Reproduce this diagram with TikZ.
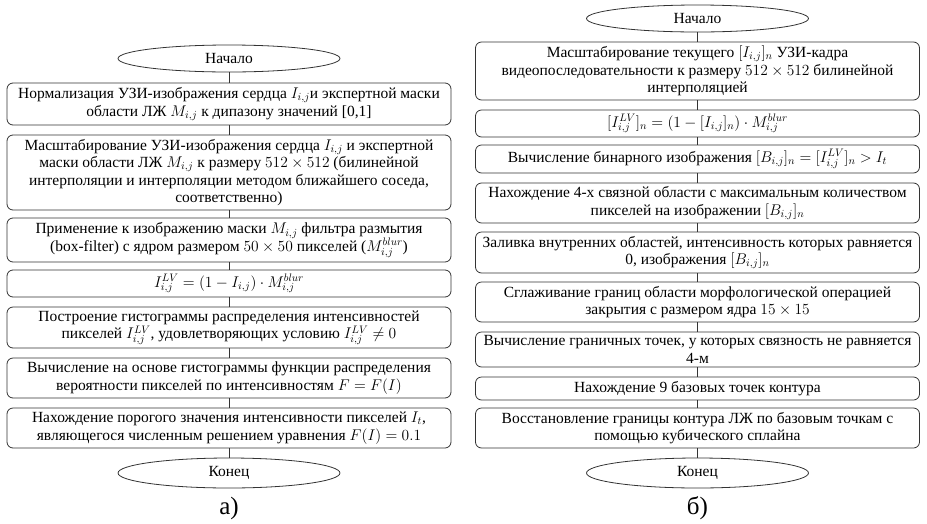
\RequirePackage{fix-cm}
\documentclass[tikz,border=0pt]{standalone}
\usepackage{amsmath}
\usepackage[no-math]{fontspec}
\setmainfont{Liberation Serif}
\newfontfamily\rusface{Liberation Serif}
\usetikzlibrary{shapes.geometric}
\newcommand{\bodyfont}{\rusface\fontsize{15.5}{17.6}\selectfont}
\newcommand{\capfont}{\rusface\fontsize{25}{28}\selectfont}

\begin{document}
\begin{tikzpicture}[x=1pt, y=-1pt,
    stepbox/.style={draw=black!80, line width=0.8pt, rounded corners=6pt,
        minimum width=444pt, inner sep=0pt, align=center, font=\bodyfont},
    termbox/.style={ellipse, draw=black!80, line width=0.8pt,
        minimum width=222pt, inner sep=0pt, font=\bodyfont},
    link/.style={draw=black!80, line width=0.8pt}]

    % 1. Frame and column centres
    \useasboundingbox (0,0) rectangle (927,523);
    \pgfmathsetmacro{\xleft}{229}   % centre of column a)
    \pgfmathsetmacro{\xright}{697.5} % centre of column b)

    % 2. Column a)
    \node[termbox, minimum height=27pt] (L0) at (\xleft,58.5) {Начало};
    \node[stepbox, minimum height=42pt] (L1) at (\xleft,104) {Нормализация УЗИ-изображения сердца $I_{i,j}$и экспертной маски\\
        области ЛЖ $M_{i,j}$ к дипазону значений [0,1]};
    \node[stepbox, minimum height=75pt] (L2) at (\xleft,172.5) {Масштабирование УЗИ-изображения сердца $I_{i,j}$ и экспертной\\
        маски области ЛЖ $M_{i,j}$ к размеру $512\times512$ (билинейной\\
        интерполяции и интерполяции методом ближайшего соседа,\\
        соответственно)};
    \node[stepbox, minimum height=44pt] (L3) at (\xleft,240) {Применение к изображению маски $M_{i,j}$ фильтра размытия\\
        (box-filter) с ядром размером $50\times50$ пикселей ($M_{i,j}^{blur}$)};
    \node[stepbox, minimum height=27pt] (L4) at (\xleft,283.5) {$I_{i,j}^{LV}=(1-I_{i,j})\cdot M_{i,j}^{blur}$};
    \node[stepbox, minimum height=41pt] (L5) at (\xleft,327.5) {Построение гистограммы распределения интенсивностей\\
        пикселей $I_{i,j}^{LV}$, удовлетворяющих условию $I_{i,j}^{LV}\neq0$};
    \node[stepbox, minimum height=40pt] (L6) at (\xleft,378) {Вычисление на основе гистограммы функции распределения\\
        вероятности пикселей по интенсивностям $F=F(I)$};
    \node[stepbox, minimum height=40pt] (L7) at (\xleft,428) {Нахождение порогого значения интенсивности пикселей $I_t$,\\
        являющегося численным решением уравнения $F(I)=0.1$};
    \node[termbox, minimum height=30pt] (L8) at (\xleft,473) {Конец};
    \node[font=\capfont] (capA) at (\xleft,508) {а)};

    % 3. Column b)
    \node[termbox, minimum height=27pt] (R0) at (\xright,18.5) {Начало};
    \node[stepbox, minimum height=58pt] (R1) at (\xright,71) {Масштабирование текущего $[I_{i,j}]_n$ УЗИ-кадра\\
        видеопоследовательности к размеру $512\times512$ билинейной\\
        интерполяцией};
    \node[stepbox, minimum height=27pt] (R2) at (\xright,123.5) {$[I_{i,j}^{LV}]_n=(1-[I_{i,j}]_n)\cdot M_{i,j}^{blur}$};
    \node[stepbox, minimum height=28pt] (R3) at (\xright,159) {Вычисление бинарного изображения $[B_{i,j}]_n=[I_{i,j}^{LV}]_n>I_t$};
    \node[stepbox, minimum height=40pt] (R4) at (\xright,203) {Нахождение 4-х связной области с максимальным количеством\\
        пикселей на изображении $[B_{i,j}]_n$};
    \node[stepbox, minimum height=41pt] (R5) at (\xright,252.5) {Заливка внутренних областей, интенсивность которых равняется\\
        0, изображения $[B_{i,j}]_n$};
    \node[stepbox, minimum height=40pt] (R6) at (\xright,302) {Сглаживание границ области морфологической операцией\\
        закрытия с размером ядра $15\times15$};
    \node[stepbox, minimum height=35pt] (R7) at (\xright,349.5) {Вычисление граничных точек, у которых связность не равняется\\
        4-м};
    \node[stepbox, minimum height=23pt] (R8) at (\xright,388.5) {Нахождение 9 базовых точек контура};
    \node[stepbox, minimum height=40pt] (R9) at (\xright,428) {Восстановление границы контура ЛЖ по базовым точкам с\\
        помощью кубического сплайна};
    \node[termbox, minimum height=30pt] (R10) at (\xright,473) {Конец};
    \node[font=\capfont] (capB) at (\xright,508) {б)};

    % 4. Connectors
    \foreach \a/\b in {L0/L1, L1/L2, L2/L3, L3/L4, L4/L5, L5/L6, L6/L7, L7/L8}
        \draw[link] (\a) -- (\b);
    \foreach \a/\b in {R0/R1, R1/R2, R2/R3, R3/R4, R4/R5, R5/R6, R6/R7, R7/R8, R8/R9, R9/R10}
        \draw[link] (\a) -- (\b);

\end{tikzpicture}
\end{document}
